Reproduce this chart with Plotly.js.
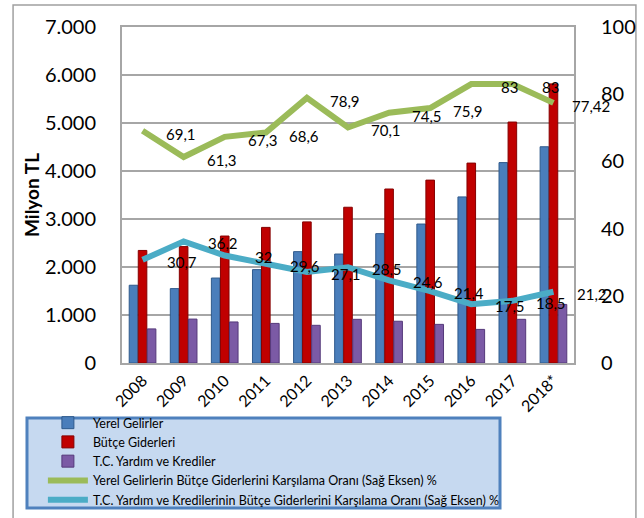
<!DOCTYPE html>
<html>
<head>
<meta charset="utf-8">
<script src="https://cdn.plot.ly/plotly-3.0.1.min.js"></script>
<style>
  html, body { margin: 0; padding: 0; background: #fff; }
  #chart { width: 644px; height: 518px; }
</style>
</head>
<body>
<div id="chart"></div>
<script>
var years = ['2008', '2009', '2010', '2011', '2012', '2013', '2014', '2015', '2016', '2017', '2018*'];

// Milyon TL (sol eksen)
var yerelGelirler = [1620, 1550, 1770, 1945, 2320, 2270, 2695, 2895, 3460, 4175, 4505];
var butceGiderleri = [2345, 2425, 2645, 2825, 2940, 3245, 3625, 3810, 4165, 5020, 5815];
var tcYardim = [710, 915, 855, 825, 785, 910, 870, 805, 700, 910, 1220];

// oranlar % (sag eksen)
var yerelOran = [69.1, 61.3, 67.3, 68.6, 78.9, 70.1, 74.5, 75.9, 83, 83, 77.42];
var tcOran = [30.7, 36.2, 32, 29.6, 27.1, 28.5, 24.6, 21.4, 17.5, 18.5, 21.2];

var leftTicks = [0, 1000, 2000, 3000, 4000, 5000, 6000, 7000];
var leftTickText = ['0', '1.000', '2.000', '3.000', '4.000', '5.000', '6.000', '7.000'];
var rightTicks = [0, 20, 40, 60, 80, 100];

var FONT = 'Lato, "Open Sans", sans-serif';

function fmt(v){
	return String(v).replace('.', ',');
}

function main(){
	var data = [
		{
			type: 'bar', name: 'Yerel Gelirler', x: years, y: yerelGelirler,
			marker: {color: '#4A7EBB', line: {color: '#2F5A8C', width: 1}}
		},
		{
			type: 'bar', name: 'Bütçe Giderleri', x: years, y: butceGiderleri,
			marker: {color: '#C00000', line: {color: '#850000', width: 1}}
		},
		{
			type: 'bar', name: 'T.C. Yardım ve Krediler', x: years, y: tcYardim,
			marker: {color: '#7B5AA5', line: {color: '#55397A', width: 1}}
		},
		{
			type: 'scatter', mode: 'lines', yaxis: 'y2',
			name: 'Yerel Gelirlerin Bütçe Giderlerini Karşılama Oranı (Sağ Eksen) %',
			x: years, y: yerelOran,
			line: {color: '#9BBB59', width: 6}
		},
		{
			type: 'scatter', mode: 'lines', yaxis: 'y2',
			name: 'T.C. Yardım ve Kredilerinin Bütçe Giderlerini Karşılama Oranı (Sağ Eksen) %',
			x: years, y: tcOran,
			line: {color: '#4BACC6', width: 6}
		}
	];

	// value labels, drawn one category to the right like in the original
	// (x as category index so the annotation does not stretch the axis)
	var annotations = [];
	years.forEach(function(yr, i){
		annotations.push({
			x: i, y: yerelOran[i], xref: 'x', yref: 'y2',
			text: fmt(yerelOran[i]), showarrow: false, xshift: 38, yshift: -3,
			font: {family: FONT, size: 15, color: '#000'}
		});
		annotations.push({
			x: i, y: tcOran[i], xref: 'x', yref: 'y2',
			text: fmt(tcOran[i]), showarrow: false, xshift: 39, yshift: -2,
			font: {family: FONT, size: 15, color: '#000'}
		});
	});

	var layout = {
		width: 644,
		height: 518,
		margin: {l: 122, r: 70, t: 27, b: 155, autoexpand: false},
		paper_bgcolor: '#fff',
		plot_bgcolor: '#fff',
		font: {family: FONT, color: '#000'},
		barmode: 'group',
		bargap: 0.34,
		bargroupgap: 0.05,
		showlegend: true,
		legend: {
			x: -0.175, y: -0.134, xanchor: 'left', yanchor: 'top',
			bgcolor: 'rgba(0,0,0,0)',
			font: {family: FONT, size: 12.5, color: '#000'},
			itemwidth: 40,
			tracegroupgap: 0
		},
		xaxis: {
			type: 'category',
			range: [-0.5, 10.5],
			tickangle: -45,
			tickfont: {family: FONT, size: 16},
			showline: true, linecolor: '#A6A6A6', linewidth: 2, mirror: true,
			ticks: ''
		},
		yaxis: {
			range: [0, 7000],
			tickvals: leftTicks, ticktext: leftTickText,
			tickfont: {family: FONT, size: 20},
			showgrid: true, gridcolor: '#A6A6A6', gridwidth: 1.5,
			showline: true, linecolor: '#A6A6A6', linewidth: 2, mirror: true,
			zeroline: false,
			ticks: 'outside', ticklen: 20, tickcolor: 'rgba(0,0,0,0)',
			title: {text: 'Milyon TL', font: {family: FONT, size: 19, weight: 'bold'}, standoff: 0}
		},
		yaxis2: {
			overlaying: 'y', side: 'right',
			range: [0, 100],
			tickvals: rightTicks,
			tickfont: {family: FONT, size: 20},
			showgrid: false, zeroline: false,
			ticks: 'outside', ticklen: 22, tickcolor: 'rgba(0,0,0,0)'
		},
		shapes: [
			// outer chart frame
			{type: 'rect', xref: 'paper', yref: 'paper', layer: 'below',
			 x0: -0.241, x1: 1.137, y0: -0.52, y1: 1.0655,
			 line: {color: '#A0A0A0', width: 1.5}, fillcolor: 'rgba(0,0,0,0)'},
			// legend box
			{type: 'rect', xref: 'paper', yref: 'paper', layer: 'below',
			 x0: -0.2102, x1: 0.8363, y0: -0.4315, y1: -0.1637,
			 line: {color: '#4F81BD', width: 3}, fillcolor: '#C6D9F0'}
		],
		annotations: annotations
	};

	Plotly.newPlot('chart', data, layout, {staticPlot: true, displayModeBar: false});
}

main();
</script>
</body>
</html>
